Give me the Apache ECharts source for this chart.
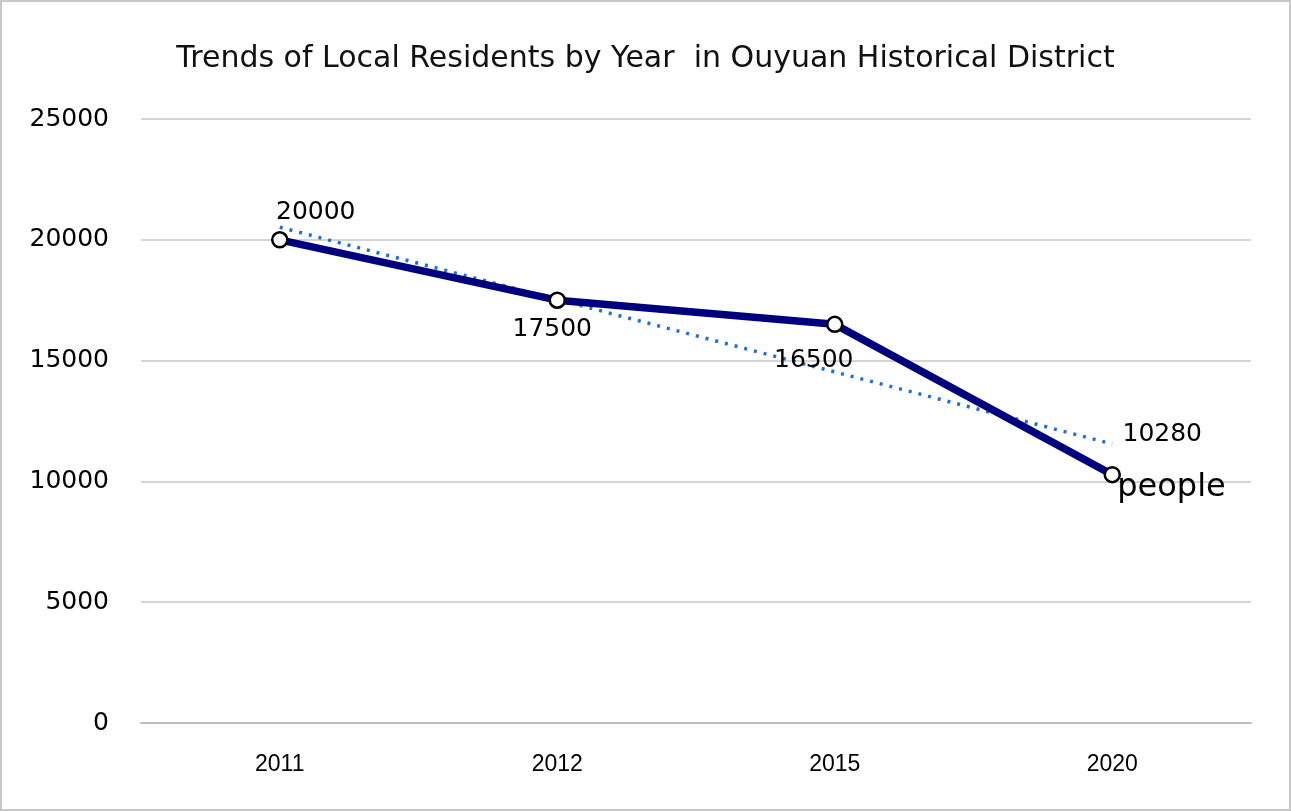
<!DOCTYPE html>
<html><head><meta charset="utf-8">
<style>html,body{margin:0;padding:0;background:#fff}#c{width:1291px;height:811px;box-sizing:border-box;border:2px solid #c8c8c8}</style>
<script src="https://cdn.jsdelivr.net/npm/echarts@6/dist/echarts.min.js"></script>
</head><body><div id="c"></div>
<script>
const years = ['2011', '2012', '2015', '2020'];
const residents = [20000, 17500, 16500, 10280];
const trendValues = [20520, 17530, 14530, 11550];
const yTicks = [0, 5000, 10000, 15000, 20000, 25000];
const titleText = 'Trends of Local Residents by Year  in Ouyuan Historical District';
const unitText = 'people';

const labelOffsets = [[36, -27], [-5, 29], [-21, 36], [50, -40]];
const wide = '"DejaVu Sans",Verdana,sans-serif';
const narrow = '"Liberation Sans",Arial,sans-serif';

const chart = echarts.init(document.getElementById('c'));
chart.setOption({
  animation: false,
  title: {
    text: titleText, left: 'center', top: 37,
    textStyle: {fontFamily: wide, fontSize: 30, fontWeight: 'normal', color: '#111'}
  },
  grid: {left: 139, right: 38, top: 117, bottom: 86},
  xAxis: {
    type: 'category', data: years, boundaryGap: true,
    axisLine: {lineStyle: {color: '#bfbfbf', width: 2}},
    axisTick: {show: false},
    axisLabel: {fontFamily: narrow, fontSize: 23, color: '#000', margin: 30}
  },
  yAxis: {
    type: 'value', min: yTicks[0], max: yTicks[yTicks.length - 1], interval: yTicks[1] - yTicks[0],
    axisLine: {show: false}, axisTick: {show: false},
    axisLabel: {fontFamily: wide, fontSize: 25, color: '#000', margin: 32, formatter: v => String(v)},
    splitLine: {lineStyle: {color: '#c6c6c6', width: 1.5}}
  },
  series: [
    {
      type: 'line', name: 'trend', data: trendValues, symbol: 'none', z: 3,
      lineStyle: {color: '#1f6fd0', width: 3.5, type: [3, 7]}, silent: true
    },
    {
      type: 'line', name: 'residents', z: 4,
      data: residents.map((v, i) => ({
        value: v,
        label: {show: true, position: 'inside', offset: labelOffsets[i]}
      })),
      symbol: 'circle', symbolSize: 15,
      itemStyle: {color: '#fff', borderColor: '#000', borderWidth: 2.5},
      lineStyle: {color: '#00007f', width: 7.5},
      label: {fontFamily: wide, fontSize: 25, color: '#000'},
      markPoint: {
        symbol: 'circle', symbolSize: 0,
        data: [{coord: [years[3], residents[3]], value: unitText}],
        label: {show: true, formatter: unitText, position: 'right', offset: [0, 13],
          fontFamily: wide, fontSize: 32, color: '#000'}
      }
    }
  ]
});
</script></body></html>
